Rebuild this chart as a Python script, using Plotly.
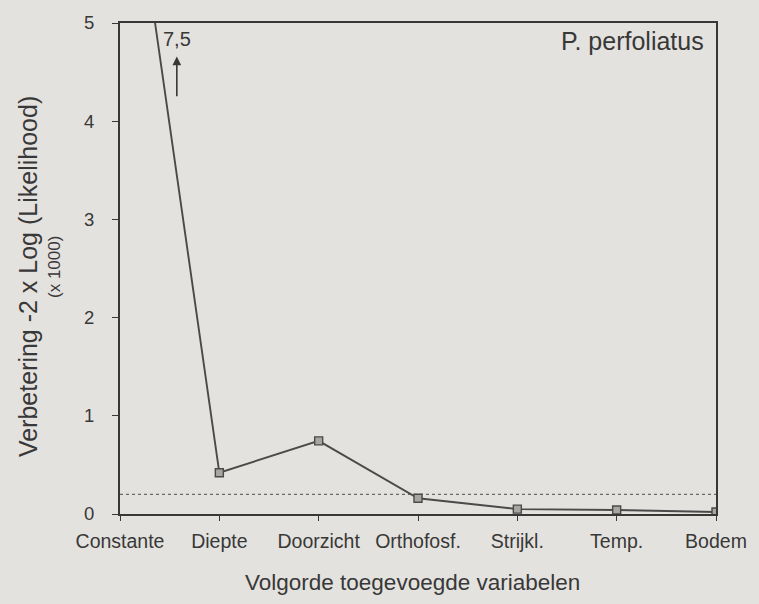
import plotly.graph_objects as go

# Stepwise model: improvement of -2 x log-likelihood (x 1000) per added variable
variables = ["Constante", "Diepte", "Doorzicht", "Orthofosf.", "Strijkl.", "Temp.", "Bodem"]
improvement = [7.5, 0.42, 0.745, 0.16, 0.05, 0.04, 0.02]
threshold = 0.2
species = "P. perfoliatus"
off_scale_label = "7,5"

ink = "#383838"
paper = "#e4e2de"
font = "Liberation Sans, Arial, sans-serif"

x_idx = list(range(len(variables)))

fig = go.Figure()

# significance level as a dotted line across the chart
fig.add_trace(go.Scatter(
    x=[x_idx[0], x_idx[-1]], y=[threshold, threshold], mode="lines",
    line=dict(color="#6a6a6a", width=1.3, dash="dot"),
    hoverinfo="skip", showlegend=False,
))

fig.add_trace(go.Scatter(
    x=x_idx, y=improvement, mode="lines+markers",
    line=dict(color="#4a4a4a", width=1.9),
    marker=dict(symbol="square", size=8, color="#a8a6a2",
                line=dict(color="#4a4a4a", width=1.4)),
    cliponaxis=True, showlegend=False,
))

fig.update_layout(
    width=759, height=604,
    margin=dict(l=120, r=41, t=22, b=90),
    paper_bgcolor=paper, plot_bgcolor=paper,
    font=dict(family=font, color=ink),
    showlegend=False,
    xaxis=dict(
        range=[0, len(variables) - 1], tickmode="array", tickvals=x_idx,
        ticktext=variables, ticks="outside", ticklen=5, tickwidth=1.4,
        tickcolor=ink, showgrid=False, zeroline=False, showline=True,
        linecolor=ink, linewidth=2, mirror=True, ticklabelstandoff=4,
        tickfont=dict(size=19.5, color=ink, family=font),
    ),
    yaxis=dict(
        range=[0, 5], tickvals=[0, 1, 2, 3, 4, 5], ticks="outside",
        ticklen=6, tickwidth=1.4, tickcolor=ink, showgrid=False,
        zeroline=False, showline=True, linecolor=ink, linewidth=2,
        mirror=True, ticklabelstandoff=14,
        tickfont=dict(size=18.5, color=ink, family=font),
    ),
    annotations=[
        dict(text="Verbetering -2 x Log (Likelihood)", xref="paper", yref="paper",
             x=-0.155, y=0.4837, xanchor="center", yanchor="middle",
             textangle=-90, showarrow=False,
             font=dict(size=25, color=ink, family=font)),
        dict(text="(x 1000)", xref="paper", yref="paper",
             x=-0.110, y=0.504, xanchor="center", yanchor="middle",
             textangle=-90, showarrow=False,
             font=dict(size=17, color=ink, family=font)),
        dict(text="Volgorde toegevoegde variabelen", xref="paper", yref="paper",
             x=0.4916, y=-0.140, xanchor="center", yanchor="middle",
             showarrow=False, font=dict(size=22.5, color=ink, family=font)),
        dict(text=species, xref="paper", yref="paper", x=0.983, y=0.963,
             xanchor="right", yanchor="middle", showarrow=False,
             font=dict(size=25, color=ink, family=font)),
        dict(text=off_scale_label, x=0.572, y=4.84, xref="x", yref="y",
             xanchor="center", yanchor="middle",
             showarrow=False, font=dict(size=20, color=ink, family=font)),
        dict(x=0.572, y=4.66, ax=0.572, ay=4.24, xref="x", yref="y",
             axref="x", ayref="y", text="", showarrow=True, arrowhead=2,
             arrowsize=1.1, arrowwidth=1.6, arrowcolor=ink),
    ],
)

fig.write_html("out.html")
